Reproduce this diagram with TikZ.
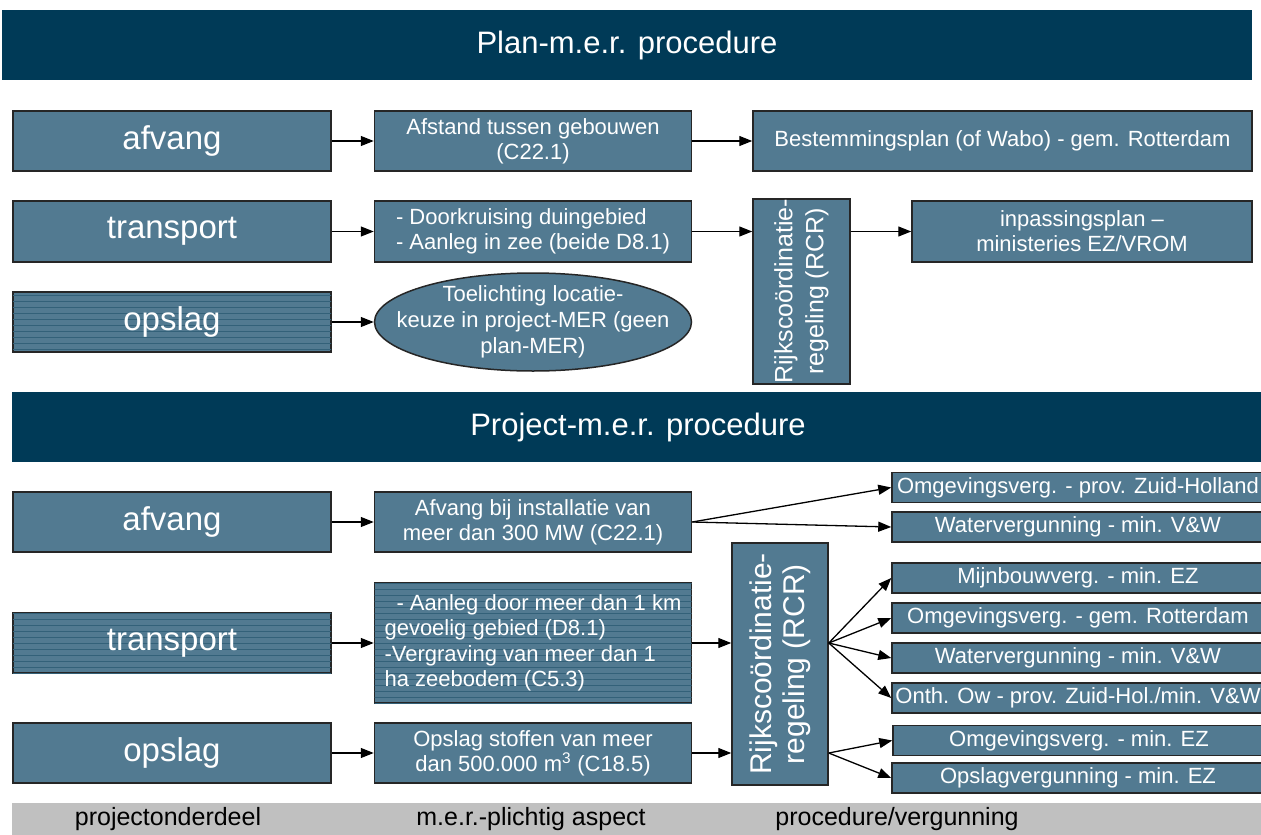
\documentclass[tikz,border=0pt]{standalone}
\usepackage{fontspec}
\setmainfont{Liberation Sans}
\usepackage{tikz}
\usetikzlibrary{positioning}
\usetikzlibrary{shapes.geometric}
\usetikzlibrary{arrows.meta}
\usetikzlibrary{patterns.meta}
\definecolor{mernavy}{RGB}{0,58,87}
\definecolor{merfill}{RGB}{82,122,145}
\definecolor{mergray}{RGB}{192,192,192}
\tikzset{
  head bar/.style={rectangle,fill=mernavy,text=white,minimum width=1250pt,minimum height=70pt,inner sep=0pt,font=\fontsize{31}{36}\selectfont},
  part node/.style={rectangle,draw=black!85,line width=1.5pt,fill=merfill,text=white,minimum width=318pt,minimum height=60pt,inner sep=0pt,font=\fontsize{33}{38}\selectfont},
  aspect node/.style={rectangle,draw=black!85,line width=1.5pt,fill=merfill,text=white,minimum width=317pt,minimum height=60pt,inner sep=0pt,align=center,font=\fontsize{22}{25}\selectfont},
  permit node/.style={rectangle,draw=black!85,line width=1.5pt,fill=merfill,text=white,minimum width=372pt,minimum height=30pt,inner sep=0pt,font=\fontsize{22}{25}\selectfont},
  rcr node/.style={rectangle,rotate=90,draw=black!85,line width=1.5pt,fill=merfill,text=white,inner sep=0pt,align=center},
  striped/.style={postaction={pattern={Lines[angle=0,distance=6pt,line width=0.8pt]},pattern color=mernavy!80}},
  foot label/.style={font=\fontsize{25}{30}\selectfont}
}
\begin{document}
\begin{tikzpicture}[x=1pt,y=-1pt,->,>={Triangle[length=13pt,width=10pt]},line width=1.3pt]
  \useasboundingbox (0,0) rectangle (1261,835);

  % plan-m.e.r.
  \node[head bar] (planhead) at (627,45) {Plan-m.e.r. procedure};
  \node[part node] (pafvang) at (172,141) {afvang};
  \node[part node,minimum height=61pt] (ptransport) at (172,231.5) {transport};
  \node[part node,striped] (popslag) at (172,322) {opslag};
  \node[aspect node,right=42pt of pafvang] (pafstand) {Afstand tussen gebouwen\\(C22.1)};
  \node[aspect node,minimum height=61pt,align=left,right=42pt of ptransport] (pdoor) {- Doorkruising duingebied\\- Aanleg in zee (beide D8.1)};
  \node[aspect node,ellipse,minimum height=98pt,inner xsep=-30pt,inner ysep=-10pt,font=\fontsize{22}{26}\selectfont,right=42pt of popslag] (ptoel) {Toelichting locatie-\\keuze in project-MER (geen\\plan-MER)};
  \node[aspect node,minimum width=499pt] (pbestem) at (1002.5,141) {Bestemmingsplan (of Wabo) - gem. Rotterdam};
  \node[rcr node,minimum width=183pt,minimum height=97pt,font=\fontsize{25}{31}\selectfont] (prcr) at (801.5,291.5) {Rijkscoördinatie-\\regeling (RCR)};
  \node[aspect node,minimum width=340pt,minimum height=61pt] (pinpas) at (1082,231.5) {inpassingsplan --\\ministeries EZ/VROM};

  \draw (pafvang) -- (pafstand);
  \draw (pafstand) -- (pbestem);
  \draw (ptransport) -- (pdoor);
  \draw (pdoor.east) -- (pdoor.east -| prcr.north);
  \draw (prcr.south |- pinpas.west) -- (pinpas.west);
  \draw (popslag.east) -- (ptoel.west);

  % project-m.e.r.
  \node[head bar,minimum width=1252pt] (projhead) at (638,427) {Project-m.e.r. procedure};
  \node[part node] (rafvang) at (172,522) {afvang};
  \node[part node,striped] (rtransport) at (172,643) {transport};
  \node[part node] (ropslag) at (172,753) {opslag};
  \node[aspect node,right=42pt of rafvang] (rafvbij) {Afvang bij installatie van\\meer dan 300 MW (C22.1)};
  \node[aspect node,striped,minimum height=120pt,align=left,font=\fontsize{22}{25.5}\selectfont,right=42pt of rtransport] (raanleg) {\hspace*{12pt}- Aanleg door meer dan 1 km\\gevoelig gebied (D8.1)\\-Vergraving van meer dan 1\\ha zeebodem (C5.3)};
  \node[aspect node,right=42pt of ropslag] (rstof) {Opslag stoffen van meer\\dan 500.000 m\textsuperscript{3} (C18.5)};
  \node[rcr node,minimum width=242pt,minimum height=96pt,font=\fontsize{30}{33}\selectfont] (rrcr) at (780,664) {Rijkscoördinatie-\\regeling (RCR)};

  \node[permit node] (romgzh) at (1078,487.5) {Omgevingsverg. - prov. Zuid-Holland};
  \node[permit node] (rwater) at (1078,527) {Watervergunning - min. V\&W};
  \node[permit node] (rmijn) at (1078,578) {Mijnbouwverg. - min. EZ};
  \node[permit node] (romgrot) at (1078,618) {Omgevingsverg. - gem. Rotterdam};
  \node[permit node] (rwatertwee) at (1078,658) {Watervergunning - min. V\&W};
  \node[permit node] (ronth) at (1078,698) {Onth. Ow - prov. Zuid-Hol./min. V\&W};
  \node[permit node] (romgez) at (1079,740.5) {Omgevingsverg. - min. EZ};
  \node[permit node] (ropslv) at (1078,778) {Opslagvergunning - min. EZ};

  \draw (rafvang) -- (rafvbij);
  \draw (rtransport) -- (raanleg);
  \draw (ropslag) -- (rstof);
  \draw (rafvbij.east) -- (romgzh.west);
  \draw (rafvbij.east) -- (rwater.west);
  \draw (raanleg.east) -- (raanleg.east -| rrcr.north);
  \draw (rstof.east) -- (rstof.east -| rrcr.north);
  \coordinate (rcrmid) at (raanleg.east -| rrcr.south);
  \coordinate (rcrlow) at (rstof.east -| rrcr.south);
  \draw (rcrmid) -- (rmijn.west);
  \draw (rcrmid) -- (romgrot.west);
  \draw (rcrmid) -- (rwatertwee.west);
  \draw (rcrmid) -- (ronth.west);
  \draw (rcrlow) -- (romgez.west);
  \draw (rcrlow) -- (ropslv.west);

  % legenda
  \node[rectangle,fill=mergray,minimum width=1252pt,minimum height=36pt,inner sep=0pt] (footbar) at (638,821) {};
  \node[foot label] (lbpart) at (168,819) {projectonderdeel};
  \node[foot label] (lbaspect) at (531,819) {m.e.r.-plichtig aspect};
  \node[foot label] (lbpermit) at (897,819) {procedure/vergunning};
\end{tikzpicture}
\end{document}
